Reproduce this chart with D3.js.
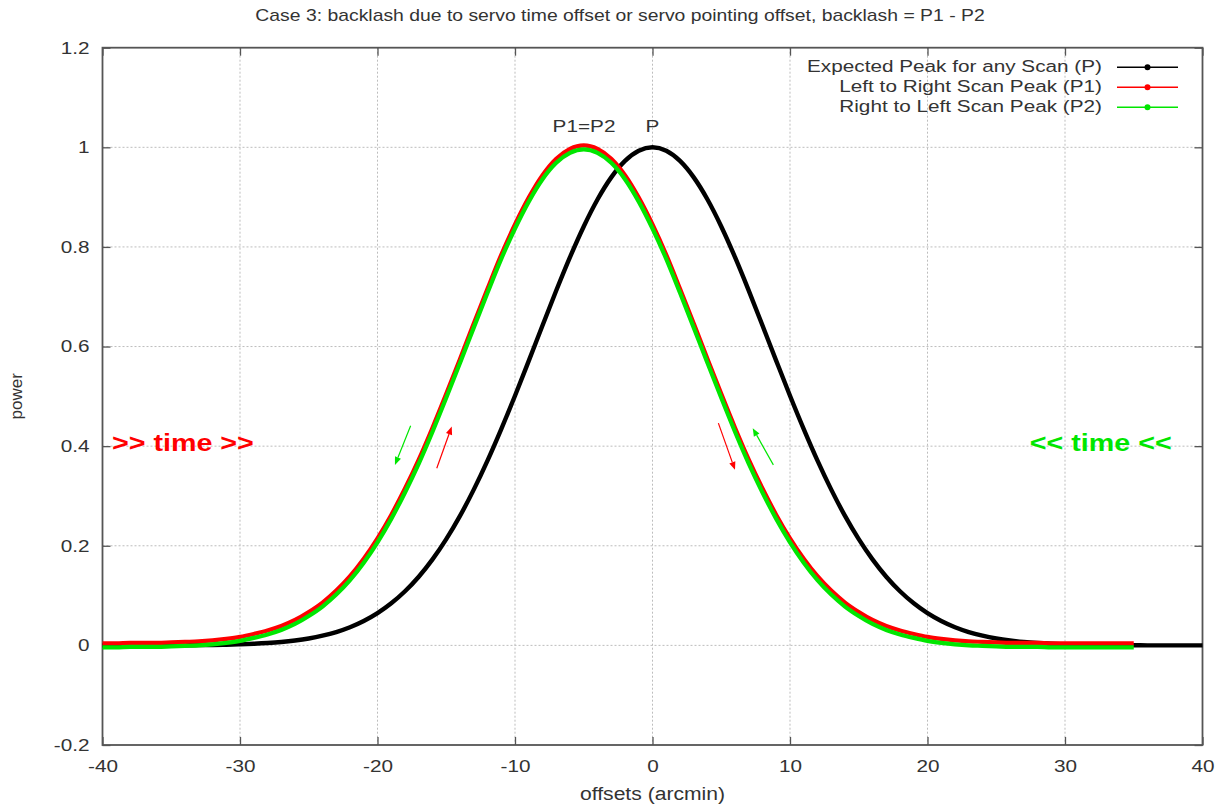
<!DOCTYPE html>
<html>
<head>
<meta charset="utf-8">
<script src="https://cdn.jsdelivr.net/npm/d3@7"></script>
<style>
  html, body { margin: 0; padding: 0; background: #fff; }
  svg { display: block; font-family: "Liberation Sans", Arial, Helvetica, sans-serif; }
</style>
</head>
<body>
<svg id="chart" width="1225" height="805"></svg>
<script>
// ---------------- data ----------------
const offsetsP = [-40,-39,-38,-37,-36,-35,-34,-33,-32,-31,-30,-29,-28,-27,-26,-25,-24,-23,-22,-21,-20,-19,-18,-17,-16,-15,-14,-13,-12,-11,-10,-9,-8,-7,-6,-5,-4,-3,-2,-1,0,1,2,3,4,5,6,7,8,9,10,11,12,13,14,15,16,17,18,19,20,21,22,23,24,25,26,27,28,29,30,31,32,33,34,35,36,37,38,39,40];
const powerP = [0,0,0,0.0001,0.0001,0.0002,0.0003,0.0005,0.0008,0.0013,
  0.0021,0.0032,0.0047,0.0068,0.0098,0.0139,0.0195,0.0268,0.0365,0.0490,
  0.0648,0.0845,0.1087,0.1379,0.1727,0.2133,0.2600,0.3127,0.3710,0.4343,
  0.5013,0.5713,0.6422,0.7124,0.7795,0.8411,0.8952,0.9396,0.9727,0.9931,
  1,
  0.9931,0.9727,0.9396,0.8952,0.8411,0.7795,0.7124,0.6422,0.5713,0.5013,
  0.4343,0.3710,0.3127,0.2600,0.2133,0.1727,0.1379,0.1087,0.0845,0.0648,
  0.0490,0.0365,0.0268,0.0195,0.0139,0.0098,0.0068,0.0047,0.0032,0.0021,
  0.0013,0.0008,0.0005,0.0003,0.0002,0.0001,0.0001,0,0,0];

const offsetsScan = [-40,-39,-38,-37,-36,-35,-34,-33,-32,-31,-30,-29,-28,-27,-26,-25,-24,-23,-22,-21,-20,-19,-18,-17,-16,-15,-14,-13,-12,-11,-10,-9,-8,-7,-6,-5,-4,-3,-2,-1,0,1,2,3,4,5,6,7,8,9,10,11,12,13,14,15,16,17,18,19,20,21,22,23,24,25,26,27,28,29,30,31,32,33,34,35];
const powerP1 = [0.004,0.004,0.005,0.005,0.005,0.006,0.007,0.008,0.010,0.013,0.017,0.023,0.030,0.039,0.051,0.067,0.086,0.110,0.139,0.174,0.215,0.262,0.315,0.373,0.437,0.505,0.575,0.646,0.716,0.784,0.845,0.899,0.944,0.977,0.997,1.004,0.997,0.977,0.944,0.899,0.845,0.784,0.716,0.646,0.575,0.505,0.437,0.373,0.315,0.262,0.215,0.174,0.139,0.110,0.086,0.067,0.051,0.039,0.030,0.023,0.017,0.013,0.010,0.008,0.007,0.006,0.005,0.005,0.005,0.004,0.004,0.004,0.004,0.004,0.004,0.004];
const powerP2 = [-0.004,-0.004,-0.003,-0.003,-0.003,-0.002,-0.001,0.000,0.002,0.005,0.009,0.015,0.022,0.031,0.043,0.059,0.078,0.102,0.131,0.166,0.207,0.254,0.307,0.365,0.429,0.497,0.567,0.638,0.708,0.776,0.837,0.891,0.936,0.969,0.989,0.996,0.989,0.969,0.936,0.891,0.837,0.776,0.708,0.638,0.567,0.497,0.429,0.365,0.307,0.254,0.207,0.166,0.131,0.102,0.078,0.059,0.043,0.031,0.022,0.015,0.009,0.005,0.002,0.000,-0.001,-0.002,-0.003,-0.003,-0.003,-0.004,-0.004,-0.004,-0.004,-0.004,-0.004,-0.004];

const xTicks = [-40,-30,-20,-10,0,10,20,30,40];
const yTicks = [-0.2,0,0.2,0.4,0.6,0.8,1,1.2];
const seriesNames = ["Expected Peak for any Scan (P)", "Left to Right Scan Peak (P1)", "Right to Left Scan Peak (P2)"];
const seriesColors = ["#000000", "#ff0000", "#00e600"];

const titleText = "Case 3: backlash due to servo time offset or servo pointing offset, backlash = P1 - P2";
const xLabel = "offsets (arcmin)";
const yLabel = "power";

// ---------------- layout ----------------
const W = 1225, H = 805;
const margin = {left: 102.5, right: 22.5, top: 47.7, bottom: 60};
const SX = 1.22; // horizontal text stretch of the reference
const textColor = "#333";
const narrow = "'Liberation Sans Narrow', 'Arial Narrow', 'Liberation Sans', Arial, sans-serif";

const svg = d3.select("#chart");
const x = d3.scaleLinear().domain([-40, 40]).range([margin.left, W - margin.right]);
const y = d3.scaleLinear().domain([-0.2, 1.2]).range([H - margin.bottom, margin.top]);

function stretchText(sel, sx) {
  sel.each(function() {
    const t = d3.select(this);
    const tx = +t.attr("x") || 0, ty = +t.attr("y") || 0;
    t.attr("x", 0).attr("y", 0).attr("transform", `translate(${tx},${ty}) scale(${sx},1)`);
  });
}
function fitText(sel, width) {
  const nat = sel.node().getComputedTextLength();
  stretchText(sel, width / nat);
}

// grid
const grid = svg.append("g").attr("stroke", "#bdbdbd").attr("stroke-width", 1).attr("stroke-dasharray", "2,2");
grid.selectAll("line.gx").data(xTicks.slice(1, -1)).join("line")
  .attr("x1", d => x(d)).attr("x2", d => x(d)).attr("y1", y(1.2)).attr("y2", y(-0.2));
grid.selectAll("line.gy").data(yTicks.slice(1, -1)).join("line")
  .attr("y1", d => y(d)).attr("y2", d => y(d)).attr("x1", x(-40)).attr("x2", x(40));

// axes
const fmtY = d => String(+d.toFixed(1));
const gB = svg.append("g").attr("transform", `translate(0,${y(-0.2)})`)
  .call(d3.axisBottom(x).tickValues(xTicks).tickSize(-8).tickPadding(15).tickFormat(d => String(d)));
const gL = svg.append("g").attr("transform", `translate(${x(-40)},0)`)
  .call(d3.axisLeft(y).tickValues(yTicks).tickSize(-8).tickPadding(13).tickFormat(fmtY));
const gT = svg.append("g").attr("transform", `translate(0,${y(1.2)})`)
  .call(d3.axisTop(x).tickValues(xTicks).tickSize(-8).tickFormat(""));
const gR = svg.append("g").attr("transform", `translate(${x(40)},0)`)
  .call(d3.axisRight(y).tickValues(yTicks).tickSize(-8).tickFormat(""));
[gB, gL, gT, gR].forEach(g => {
  g.select(".domain").remove();
  g.selectAll(".tick line").attr("stroke", "#555").attr("stroke-width", 1.3);
  g.selectAll(".tick text").attr("fill", textColor).attr("font-size", 17)
    .attr("font-family", "Liberation Sans, Arial, sans-serif");
});
stretchText(gB.selectAll(".tick text"), SX);
stretchText(gL.selectAll(".tick text"), SX);

// frame
svg.append("rect").attr("x", x(-40)).attr("y", y(1.2))
  .attr("width", x(40) - x(-40)).attr("height", y(-0.2) - y(1.2))
  .attr("fill", "none").attr("stroke", "#555").attr("stroke-width", 1.8);

// curves
const plot = svg.append("g");
const line = d3.line().x(d => x(d[0])).y(d => y(d[1])).curve(d3.curveMonotoneX);
const curves = [
  {xs: offsetsP, ys: powerP, color: seriesColors[0], w: 4.4},
  {xs: offsetsScan, ys: powerP1, color: seriesColors[1], w: 4.2},
  {xs: offsetsScan, ys: powerP2, color: seriesColors[2], w: 4.2}
];
curves.forEach(c => {
  plot.append("path").datum(c.xs.map((v, i) => [v, c.ys[i]]))
    .attr("d", line).attr("fill", "none").attr("stroke", c.color)
    .attr("stroke-width", c.w).attr("stroke-linejoin", "round");
});

// title & axis labels
const title = svg.append("text").attr("x", 620).attr("y", 17).attr("text-anchor", "middle")
  .attr("dominant-baseline", "middle").attr("font-size", 16).attr("font-family", narrow)
  .attr("fill", textColor).text(titleText);
fitText(title, 730);
const xl = svg.append("text").attr("x", (x(-40) + x(40)) / 2).attr("y", 795).attr("text-anchor", "middle")
  .attr("dominant-baseline", "middle").attr("font-size", 18).attr("font-family", narrow)
  .attr("fill", textColor).text(xLabel);
fitText(xl, 145);
svg.append("text").attr("transform", `translate(18,${(y(1.2) + y(-0.2)) / 2}) rotate(-90)`)
  .attr("text-anchor", "middle").attr("dominant-baseline", "middle")
  .attr("font-size", 17).attr("fill", textColor).text(yLabel);

// legend
const legend = svg.append("g");
seriesNames.forEach((name, i) => {
  const cy = 67.3 + i * 20;
  const t = legend.append("text").attr("x", 1102).attr("y", cy).attr("text-anchor", "end")
    .attr("dominant-baseline", "middle").attr("font-size", 17).attr("fill", textColor).text(name);
  stretchText(t, SX);
  legend.append("line").attr("x1", 1117).attr("x2", 1178).attr("y1", cy).attr("y2", cy)
    .attr("stroke", seriesColors[i]).attr("stroke-width", 1.5);
  legend.append("circle").attr("cx", 1147.5).attr("cy", cy).attr("r", 3).attr("fill", seriesColors[i]);
});

// annotations
const peakLabels = [
  {text: "P1=P2", x: -4.98, y: 1.04},
  {text: "P", x: 0.0, y: 1.04}
];
peakLabels.forEach(p => {
  const t = svg.append("text").attr("x", x(p.x)).attr("y", y(p.y)).attr("text-anchor", "middle")
    .attr("dominant-baseline", "middle").attr("font-size", 17).attr("fill", textColor).text(p.text);
  stretchText(t, SX);
});

const timeLabels = [
  {text: ">> time >>", x: -34.15, y: 0.402, color: "#ff0000"},
  {text: "<< time <<", x: 32.6, y: 0.402, color: "#00e600"}
];
timeLabels.forEach(p => {
  const t = svg.append("text").attr("x", x(p.x)).attr("y", y(p.y)).attr("text-anchor", "middle")
    .attr("dominant-baseline", "middle").attr("font-size", 23.5).attr("font-weight", "bold")
    .attr("fill", p.color).text(p.text);
  stretchText(t, SX);
});

const arrows = [
  {x1: -17.59, y1: 0.4408, x2: -18.73, y2: 0.3624, color: "#00e600"},
  {x1: -15.69, y1: 0.3558, x2: -14.60, y2: 0.4394, color: "#ff0000"},
  {x1: 4.79, y1: 0.4462, x2: 6.00, y2: 0.3524, color: "#ff0000"},
  {x1: 8.79, y1: 0.3624, x2: 7.29, y2: 0.4361, color: "#00e600"}
];
const aG = svg.append("g");
arrows.forEach(a => {
  const X1 = x(a.x1), Y1 = y(a.y1), X2 = x(a.x2), Y2 = y(a.y2);
  const ang = Math.atan2(Y2 - Y1, X2 - X1);
  const hl = 8, hw = 3.2;
  const bx = X2 - hl * Math.cos(ang), by = Y2 - hl * Math.sin(ang);
  aG.append("line").attr("x1", X1).attr("y1", Y1).attr("x2", bx).attr("y2", by)
    .attr("stroke", a.color).attr("stroke-width", 1.2);
  const px = -Math.sin(ang) * hw, py = Math.cos(ang) * hw;
  aG.append("path").attr("d", `M${X2},${Y2}L${bx + px},${by + py}L${bx - px},${by - py}Z`)
    .attr("fill", a.color);
});
</script>
</body>
</html>
